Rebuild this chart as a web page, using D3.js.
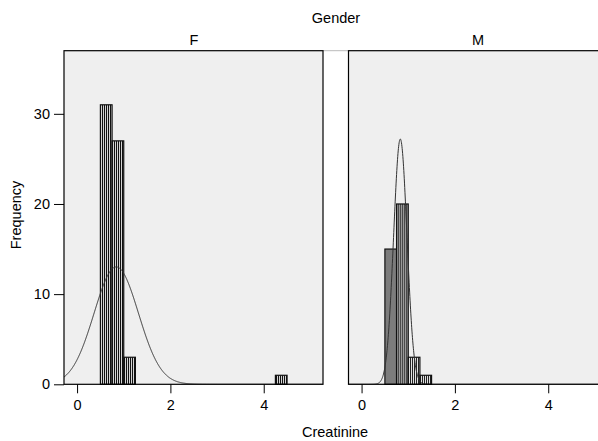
<!DOCTYPE html>
<html><head><meta charset="utf-8">
<script src="https://cdn.jsdelivr.net/npm/d3@7"></script>
<style>body{margin:0;background:#fff}svg{display:block}text{font-family:"Liberation Sans",Arial,sans-serif;fill:#000}</style>
</head><body>
<svg id="c" width="598" height="441"></svg>
<script>
// ---- data ----
const panels = ["F", "M"];
const binStarts = [0.5, 0.75, 1.0, 1.25, 4.25];
const binWidth = 0.25;
const countsF = [31, 27, 3, 0, 1];
const countsM = [15, 20, 3, 1, 0];
const normalMean = [0.84, 0.83];
const normalSD = [0.475, 0.143];
const normalN = [62, 39];
const xTicks = [0, 2, 4];
const yTicks = [0, 10, 20, 30];

// ---- layout ----
const svg = d3.select("#c");
const pTop = 50.7, pBottom = 384.3, pw = 259;
const lefts = [64, 348.5];
const titleX = [194, 478];
const xDomain = [-0.28, 5.27];
const yScale = d3.scaleLinear().domain([0, 37]).range([pBottom, pTop]);
const FONT = '"Liberation Sans",Arial,sans-serif';

const defs = svg.append("defs");
function stripe(id, a, b) {
  const p = defs.append("pattern").attr("id", id).attr("patternUnits", "userSpaceOnUse")
    .attr("width", 2).attr("height", 4);
  p.append("rect").attr("width", 2).attr("height", 4).attr("fill", b);
  p.append("rect").attr("width", 1).attr("height", 4).attr("fill", a);
}
stripe("sBW", "#111", "#d4d4d4");
stripe("sGr", "#4a4a4a", "#9a9a9a");
stripe("sBW2", "#222", "#e0e0e0");
const fills = [
  ["url(#sBW)", "url(#sBW)", "url(#sBW)", "url(#sBW)", "url(#sBW)"],
  ["#7c7c7c", "url(#sGr)", "url(#sBW2)", "url(#sBW2)", "url(#sBW2)"]
];
const allCounts = [countsF, countsM];

svg.append("text").attr("x", 336).attr("y", 23).attr("text-anchor", "middle")
  .style("font-size", "14.5px").text("Gender");
svg.append("line").attr("x1", 323).attr("x2", 348.5).attr("y1", pTop).attr("y2", pTop)
  .attr("stroke", "#bbb").attr("stroke-width", 1);

panels.forEach((name, pi) => {
  const x = d3.scaleLinear().domain(xDomain).range([lefts[pi], lefts[pi] + pw]);
  const g = svg.append("g");
  const clipId = "clip" + pi;
  defs.append("clipPath").attr("id", clipId).append("rect")
    .attr("x", lefts[pi]).attr("y", pTop).attr("width", pw).attr("height", pBottom - pTop);

  g.append("rect").attr("x", lefts[pi]).attr("y", pTop).attr("width", pw).attr("height", pBottom - pTop)
    .attr("fill", "#efefef");

  g.append("text").attr("x", titleX[pi]).attr("y", 45)
    .attr("text-anchor", "middle").style("font-size", "14.5px").text(name);

  const bars = binStarts.map((s, i) => ({ s, c: allCounts[pi][i], i })).filter(d => d.c > 0);
  g.selectAll("rect.bar").data(bars).join("rect").attr("class", "bar")
    .attr("x", d => x(d.s)).attr("width", d => x(d.s + binWidth) - x(d.s))
    .attr("y", d => yScale(d.c)).attr("height", d => yScale(0) - yScale(d.c))
    .attr("fill", d => fills[pi][d.i]).attr("stroke", "#111").attr("stroke-width", 1.2);

  const m = normalMean[pi], sd = normalSD[pi], n = normalN[pi];
  const pts = d3.range(xDomain[0], xDomain[1] + 0.001, 0.005).map(v => [v,
    n * binWidth / (sd * Math.sqrt(2 * Math.PI)) * Math.exp(-0.5 * ((v - m) / sd) ** 2)]);
  g.append("path").datum(pts).attr("clip-path", `url(#${clipId})`)
    .attr("d", d3.line().x(d => x(d[0])).y(d => yScale(d[1])))
    .attr("fill", "none").attr("stroke", "#333").attr("stroke-width", 1);

  g.append("rect").attr("x", lefts[pi]).attr("y", pTop).attr("width", pw).attr("height", pBottom - pTop)
    .attr("fill", "none").attr("stroke", "#000").attr("stroke-width", 1.2);

  const xa = g.append("g").attr("transform", `translate(0,${pBottom})`)
    .call(d3.axisBottom(x).tickValues(xTicks).tickSize(9).tickPadding(6).tickFormat(d3.format("d")));
  xa.select(".domain").remove();
  xa.selectAll("line").attr("stroke", "#000");
  xa.selectAll("text").style("font-size", "14.5px").style("font-family", FONT);

  if (pi === 0) {
    const ya = g.append("g").attr("transform", `translate(${lefts[0]},0)`)
      .call(d3.axisLeft(yScale).tickValues(yTicks).tickSize(10).tickPadding(4).tickFormat(d3.format("d")));
    ya.select(".domain").remove();
    ya.selectAll("line").attr("stroke", "#000");
    ya.selectAll("text").style("font-size", "14.5px").style("font-family", FONT);
  }
});

svg.append("text").attr("x", 335).attr("y", 437).attr("text-anchor", "middle")
  .style("font-size", "14.5px").text("Creatinine");
svg.append("text").attr("transform", "translate(21,215) rotate(-90)").attr("text-anchor", "middle")
  .style("font-size", "14.5px").text("Frequency");
</script>
</body></html>
